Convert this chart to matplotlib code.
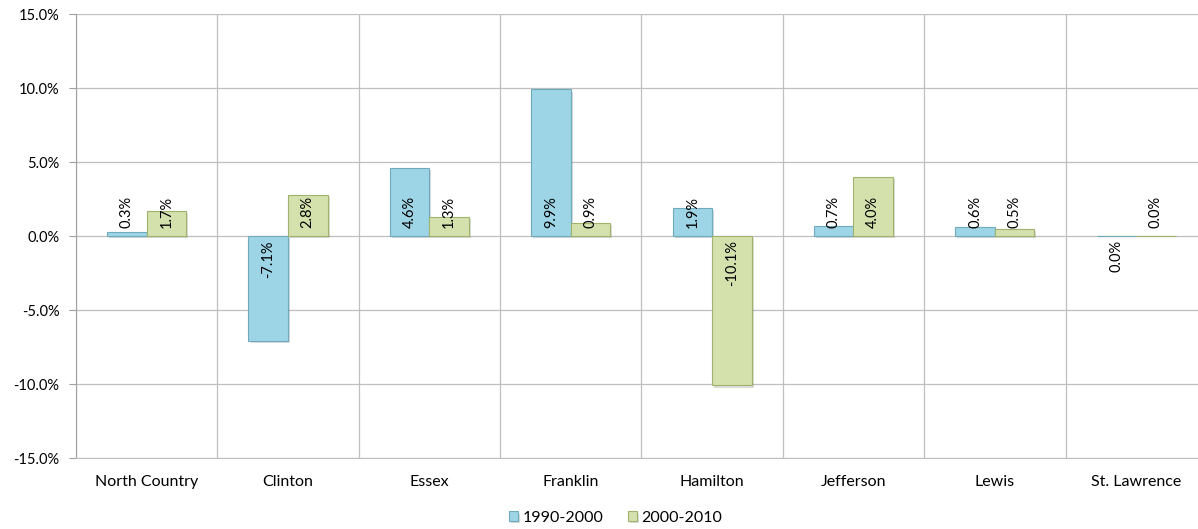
import matplotlib.pyplot as plt
import matplotlib.patheffects as pe
import numpy as np

plt.rcParams['font.family'] = ['Lato', 'DejaVu Sans']

counties = ["North Country", "Clinton", "Essex", "Franklin", "Hamilton",
            "Jefferson", "Lewis", "St. Lawrence"]
change_1990_2000 = [0.3, -7.1, 4.6, 9.9, 1.9, 0.7, 0.6, -0.01]
change_2000_2010 = [1.7, 2.8, 1.3, 0.9, -10.1, 4.0, 0.5, 0.0]
label_1990_2000 = ["0.3%", "-7.1%", "4.6%", "9.9%", "1.9%", "0.7%", "0.6%", "0.0%"]
label_2000_2010 = ["1.7%", "2.8%", "1.3%", "0.9%", "-10.1%", "4.0%", "0.5%", "0.0%"]
y_ticks = [-15, -10, -5, 0, 5, 10, 15]

blue = "#9dd5e6"
blue_edge = "#6fabbc"
green = "#d4e1ad"
green_edge = "#9fb36c"
grid = "#bfbfbf"


def draw_labels(ax, xs, values, labels):
    for x, v, t in zip(xs, values, labels):
        if v >= 0:
            ax.annotate(t, (x, 0), xytext=(0, 6), textcoords="offset points",
                        rotation=90, ha="center", va="bottom", fontsize=10.5)
        else:
            ax.annotate(t, (x, 0), xytext=(0, -3), textcoords="offset points",
                        rotation=90, ha="center", va="top", fontsize=10.5)


def main():
    fig = plt.figure(figsize=(11.98, 5.29), dpi=100)
    ax = fig.add_axes([0.0634, 0.1342, 0.944, 0.8393])

    x = np.arange(len(counties))
    w = 0.28
    shadow = [pe.withSimplePatchShadow(offset=(1.5, -1.5), alpha=0.18)]
    ax.bar(x - w / 2, change_1990_2000, w, color=blue, edgecolor=blue_edge,
           linewidth=0.8, label="1990-2000", zorder=3, path_effects=shadow)
    ax.bar(x + w / 2, change_2000_2010, w, color=green, edgecolor=green_edge,
           linewidth=0.8, label="2000-2010", zorder=3, path_effects=shadow)

    draw_labels(ax, x - w / 2, change_1990_2000, label_1990_2000)
    draw_labels(ax, x + w / 2, change_2000_2010, label_2000_2010)

    ax.set_xlim(-0.5, len(counties) - 0.5)
    ax.set_ylim(-15, 15)
    ax.set_yticks(y_ticks)
    ax.set_yticklabels(["%.1f%%" % v for v in y_ticks])
    ax.set_xticks(x)
    ax.set_xticklabels(counties)
    ax.set_xticks(np.arange(len(counties) + 1) - 0.5, minor=True)

    ax.grid(axis="y", color=grid, linewidth=0.9, zorder=0)
    ax.grid(axis="x", which="minor", color=grid, linewidth=0.9, zorder=0)
    for s in ["top", "right"]:
        ax.spines[s].set_visible(False)
    ax.spines["left"].set_color("#a0a0a0")
    ax.spines["bottom"].set_color(grid)
    ax.tick_params(axis="y", length=5, color="#a0a0a0", pad=7, labelsize=10.5)
    ax.tick_params(axis="x", which="both", length=0, pad=12, labelsize=11.5)

    fig.legend(loc="center", bbox_to_anchor=(0.514, 0.021), ncol=2, frameon=False,
               fontsize=11.5, handlelength=0.55, handleheight=0.55, handletextpad=0.3,
               columnspacing=1.5)

    fig.savefig("out.png", dpi=100)


if __name__ == "__main__":
    main()
